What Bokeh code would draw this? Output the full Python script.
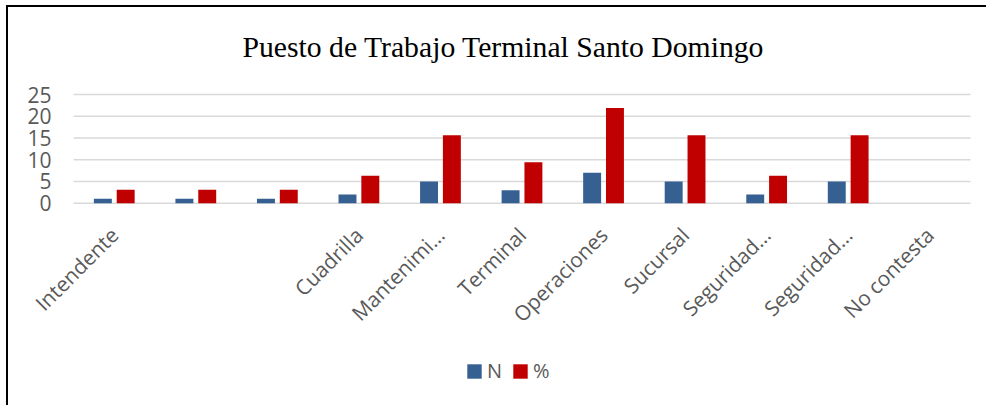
import math
from bokeh.plotting import figure
from bokeh.models import Range1d, FixedTicker, Legend, LegendItem, ColumnDataSource, Label
from bokeh.embed import file_html
from bokeh.resources import INLINE

# ---- data ----
categories = ["Intendente", "", "", "Cuadrilla", "Mantenimi\u2026", "Terminal",
              "Operaciones", "Sucursal", "Seguridad\u2026", "Seguridad\u2026", "No contesta"]
n_values = [1, 1, 1, 2, 5, 3, 7, 5, 2, 5, 0]
pct_values = [3.1, 3.1, 3.1, 6.3, 15.6, 9.4, 21.9, 15.6, 6.3, 15.6, 0]
y_ticks = [0, 5, 10, 15, 20, 25]
title_text = "Puesto de Trabajo Terminal Santo Domingo"

# ---- layout (canvas pixels) ----
W, H = 980, 400
AREA_LEFT, AREA_RIGHT = 65, 962     # plot area x extent
AREA_TOP, AREA_ZERO = 87, 195.7     # pixel rows of y=25 and y=0
ncat = len(categories)
ymax = y_ticks[-1]
px_x = (AREA_RIGHT - AREA_LEFT) / ncat
px_y = (AREA_ZERO - AREA_TOP) / ymax
x_range = Range1d(-AREA_LEFT / px_x, ncat + (W - AREA_RIGHT) / px_x)
y_range = Range1d(-(H - AREA_ZERO) / px_y, ymax + AREA_TOP / px_y)

centers = [i + 0.5 for i in range(ncat)]
src = ColumnDataSource(dict(
    xn=[c - 0.14 for c in centers],
    xp=[c + 0.14 for c in centers],
    n=n_values,
    pct=pct_values,
))

p = figure(width=W, height=H, output_backend="svg", toolbar_location=None,
           x_range=x_range, y_range=y_range,
           min_border_left=0, min_border_right=0, min_border_top=0, min_border_bottom=0)
p.margin = (5, 0, 0, 6)
p.styles = {"border-top": "2px solid black", "border-left": "2px solid black"}
p.outline_line_color = None
p.background_fill_color = "white"
p.border_fill_color = "white"

# horizontal grid lines limited to the plot area
p.segment(x0=[0] * len(y_ticks), x1=[ncat] * len(y_ticks), y0=y_ticks, y1=y_ticks,
          line_color="#d9d9d9", line_width=1.5)

rn = p.vbar(x="xn", top="n", width=0.22, source=src, fill_color="#376092", line_color=None)
rp = p.vbar(x="xp", top="pct", width=0.22, source=src, fill_color="#C00000", line_color=None)

# title
p.add_layout(Label(x=495, y=361, x_units="screen", y_units="screen", text=title_text,
                   text_font="Liberation Serif", text_font_size="29.7px",
                   text_color="black", text_align="center", text_baseline="alphabetic"))

label_font = "Open Sans"
# y axis fixed at x = 0
p.yaxis.fixed_location = 0
p.yaxis.ticker = FixedTicker(ticks=y_ticks)
p.yaxis.axis_line_color = None
p.yaxis.major_tick_line_color = None
p.yaxis.minor_tick_line_color = None
p.yaxis.major_label_standoff = 16
p.yaxis.major_label_text_font = label_font
p.yaxis.major_label_text_font_size = "21px"
p.yaxis.major_label_text_color = "#595959"

# x axis fixed at y = 0
p.xaxis.fixed_location = 0
p.xaxis.ticker = FixedTicker(ticks=centers)
p.xaxis.major_label_overrides = {c: lab for c, lab in zip(centers, categories)}
p.xaxis.major_label_orientation = math.pi / 4
p.xaxis.axis_line_color = None
p.xaxis.major_tick_line_color = None
p.xaxis.minor_tick_line_color = None
p.xaxis.major_label_standoff = 22
p.xaxis.major_label_text_font = label_font
p.xaxis.major_label_text_font_size = "20.8px"
p.xaxis.major_label_text_color = "#595959"

p.xgrid.grid_line_color = None
p.ygrid.grid_line_color = None

legend = Legend(items=[LegendItem(label="N", renderers=[rn]),
                       LegendItem(label="%", renderers=[rp])],
                orientation="horizontal", location=(457, 23),
                padding=0, margin=0, spacing=4,
                glyph_width=18, glyph_height=18, label_standoff=4, label_height=14,
                label_text_font=label_font, label_text_font_size="20px",
                label_text_color="#595959", border_line_color=None,
                background_fill_alpha=0)
p.add_layout(legend, "center")

open("out.html", "w").write(file_html(p, INLINE))
